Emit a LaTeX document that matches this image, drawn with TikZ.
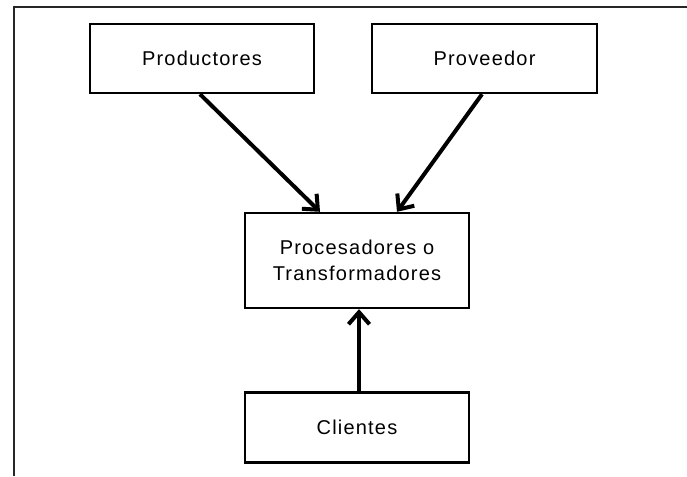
\documentclass[tikz,border=0pt]{standalone}
\usepackage{fontspec}
\setmainfont{Liberation Sans}[LetterSpace=6]
\usetikzlibrary{arrows.meta}
\begin{document}
\begin{tikzpicture}[x=1pt,y=-1pt,
  box/.style={draw, line width=2.4pt, inner sep=0pt, align=center, font=\fontsize{20}{25.5}\selectfont},
  arr/.style={line width=4pt, -{Straight Barb[length=12pt,width=21pt]}}]
\useasboundingbox (0,0) rectangle (687,476);
\draw[line width=1.3pt, black!85] (14,476) -- (14,7) -- (687,7);
\node[box, minimum width=224pt, minimum height=69pt] (prod) at (202,58.5) {Productores};
\node[box, minimum width=225pt, minimum height=69pt] (prov) at (484.5,58.5) {Proveedor};
\node[box, minimum width=224pt, minimum height=95pt] (proc) at (357,260.5) {Procesadores o\\Transformadores};
\node[box, minimum width=224pt, minimum height=70pt] (cli) at (357,427.5) {Clientes};
\draw[arr] ([xshift=-2pt]prod.south) -- ([xshift=-37pt]proc.north);
\draw[arr] ([xshift=-2.5pt]prov.south) -- ([xshift=40pt]proc.north);
\draw[arr] ([xshift=2pt]cli.north) -- ([xshift=2pt]proc.south);
\end{tikzpicture}
\end{document}
